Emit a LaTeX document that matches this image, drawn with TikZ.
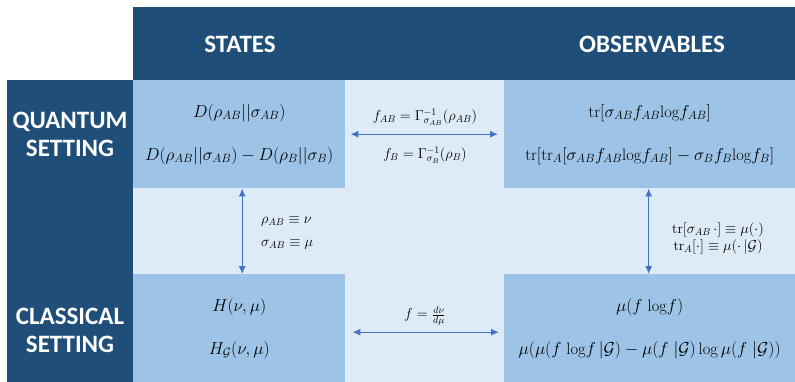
\documentclass[tikz,border=0pt]{standalone}
\usepackage{amsmath}
\usepackage{fontspec}
\newfontfamily\hdrfont{Carlito}
\usetikzlibrary{arrows.meta}
\definecolor{darkblue}{HTML}{1F4E79}
\definecolor{midblue}{HTML}{9DC3E6}
\definecolor{lightblue}{HTML}{DEEBF7}
\definecolor{arrblue}{HTML}{4472C4}
\begin{document}
\begin{tikzpicture}[x=1pt,y=-1pt,
  darkbox/.style={fill=darkblue, draw=none, inner sep=0, anchor=north west},
  cellbox/.style={fill=midblue, draw=none, inner sep=0, anchor=north west, align=center,
    font=\fontsize{16.5}{43}\selectfont},
  headtxt/.style={text=white, font=\hdrfont\bfseries\fontsize{25}{28}\selectfont, align=center, inner sep=0},
  lbl/.style={inner sep=0, font=\fontsize{14}{23}\selectfont},
  dblarrow/.style={arrblue, line width=1.1pt, {Latex[length=8,width=7]}-{Latex[length=8,width=7]}}
]
\useasboundingbox (0,0) rectangle (795,382);
\fill[lightblue] (133,80) rectangle (795,382);
\node[darkbox, minimum width=662, minimum height=73] (hdr) at (133,7) {};
\node[darkbox, minimum width=126, minimum height=302] (left) at (7,80) {};
\node[headtxt] (states) at (240,44) {STATES};
\node[headtxt] (obs) at (652,44) {OBSERVABLES};
\node[headtxt] (qs) at (70,134) {QUANTUM\\SETTING};
\node[headtxt] (cs) at (70,330) {CLASSICAL\\SETTING};

\node[cellbox, minimum width=212, minimum height=108] (sq) at (133,80)
  {$D(\rho_{AB}||\sigma_{AB})$\\$D(\rho_{AB}||\sigma_{AB})-D(\rho_B||\sigma_B)$};
\node[cellbox, minimum width=291, minimum height=108] (oq) at (504,80)
  {$\mathrm{tr}[\sigma_{AB}f_{AB}\mathrm{log}f_{AB}]$\\$\mathrm{tr}[\mathrm{tr}_A[\sigma_{AB}f_{AB}\mathrm{log}f_{AB}]-\sigma_Bf_B\mathrm{log}f_B]$};
\node[cellbox, minimum width=212, minimum height=108] (sc) at (133,274)
  {$H(\nu,\mu)$\\$H_{\mathcal{G}}(\nu,\mu)$};
\node[cellbox, minimum width=291, minimum height=108] (oc) at (504,274)
  {$\mu(f\ \mathrm{log}f)$\\$\mu(\mu(f\ \mathrm{log}f\,|\mathcal{G})-\mu(f\ |\mathcal{G})\log\mu(f\ |\mathcal{G}))$};

\draw[dblarrow] ([xshift=5]sq.east) -- ([xshift=-6]oq.west);
\draw[dblarrow] ([xshift=7,yshift=-4]sc.east) -- ([xshift=-5,yshift=-4]oc.west);
\draw[dblarrow] ([xshift=3]sq.south) -- ([xshift=3]sc.north);
\draw[dblarrow] ([xshift=-1]oq.south) -- ([xshift=-1]oc.north);

\node[lbl] (ftop) at (425,117) {$f_{AB}=\Gamma^{-1}_{\sigma_{AB}}(\rho_{AB})$};
\node[lbl] (fbot) at (425,155) {$f_{B}=\Gamma^{-1}_{\sigma_{B}}(\rho_{B})$};
\node[lbl] (fcl) at (425,316) {$f=\tfrac{d\nu}{d\mu}$};
\node[lbl, anchor=west, align=left] (idl) at (261,233)
  {$\rho_{AB}\equiv\nu$\\$\sigma_{AB}\equiv\mu$};
\node[lbl, align=center, font=\fontsize{14}{17}\selectfont] (idr) at (718,238)
  {$\mathrm{tr}[\sigma_{AB}\,\cdot]\equiv\mu(\cdot)$\\$\mathrm{tr}_A[\cdot]\equiv\mu(\cdot\,|\mathcal{G})$};
\end{tikzpicture}
\end{document}
